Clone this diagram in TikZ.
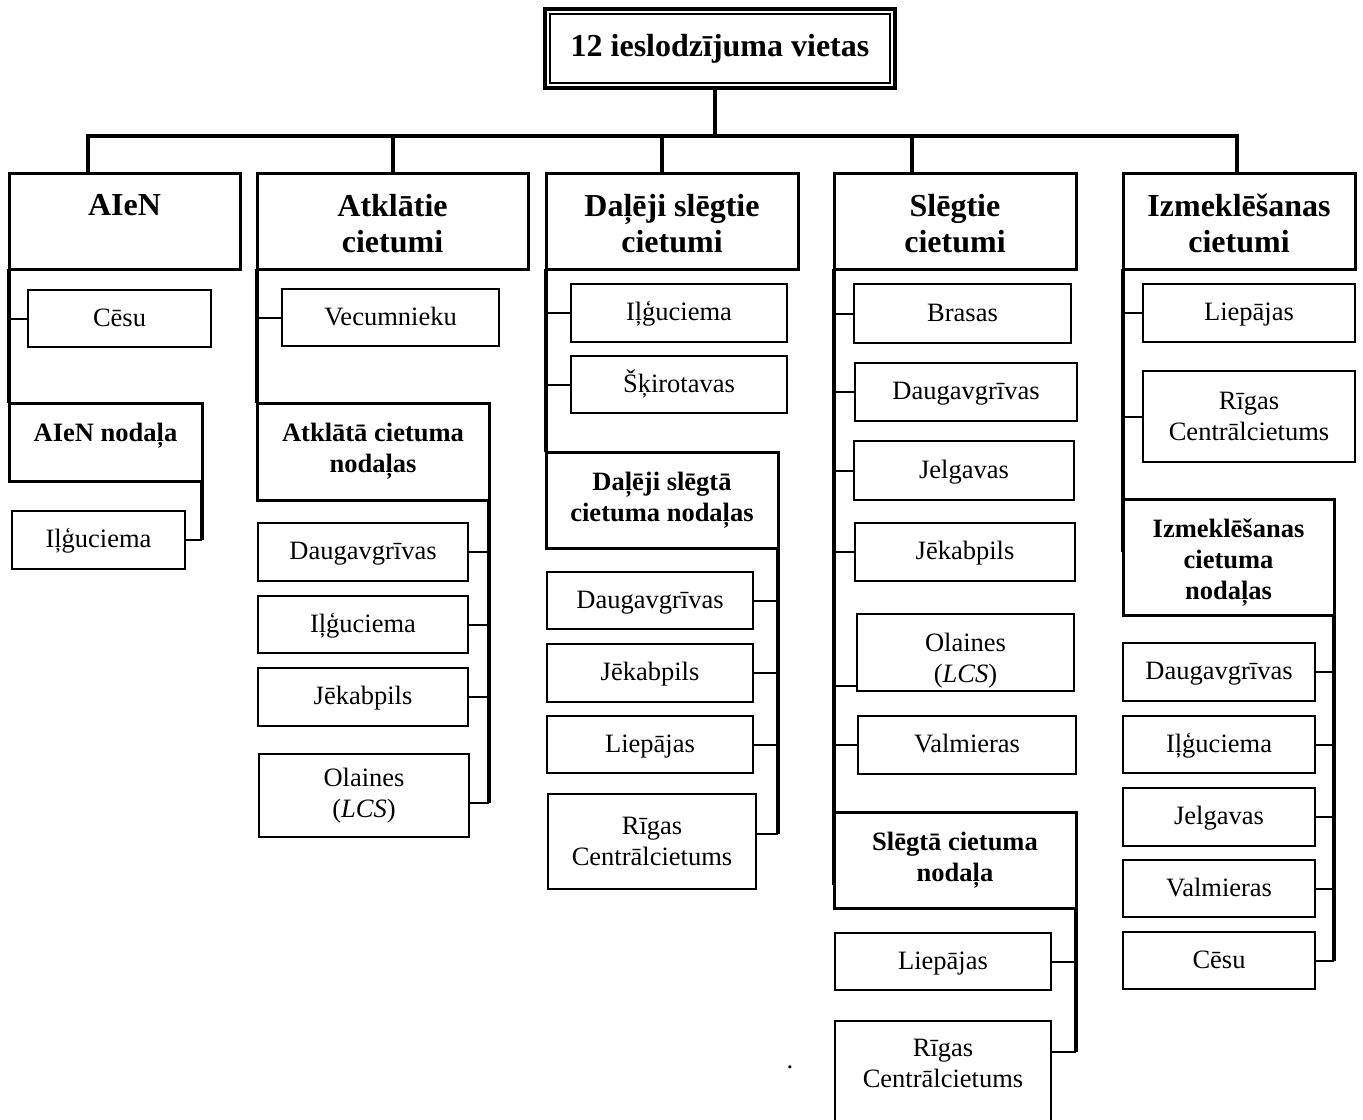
\documentclass[tikz,border=0pt]{standalone}
\usepackage{fontspec}
\setmainfont{Liberation Serif}
\newcommand{\drawbox}[7]{\node[#2, minimum width={(#5-#3)*0.5pt}, minimum height={(#6-#4)*0.5pt}] (#1) at ({(#3+#5)/2},{(#4+#6)/2}) {#7};}
\tikzset{
  every node/.style={inner sep=0pt, outer sep=0pt, align=center},
  basebox/.style={draw, line width=1pt, font=\fontsize{13.25}{15.5}\selectfont},
  child/.style={basebox, text height=10.6pt, text depth=2.65pt},
  childml/.style={basebox},
  header/.style={draw, line width=1.5pt, font=\fontsize{16}{18}\selectfont\bfseries},
  hdtwo/.style={header, text height=31pt, text depth=0pt},
  subhead/.style={draw, line width=1.5pt, font=\fontsize{13.25}{15.5}\selectfont\bfseries},
  titlebox/.style={draw, line width=2pt, font=\fontsize{16}{18}\selectfont\bfseries},
  trunk/.style={line width=2pt},
  conn/.style={line width=1pt},
}
\begin{document}
\begin{tikzpicture}[x=0.5pt, y=-0.5pt]
\useasboundingbox (0,0) rectangle (1363,1119);

% title
\drawbox{title}{titlebox}{545}{9}{895}{88}{12 ieslodzījuma vietas}
\draw[line width=1pt] ([shift={(2.5pt,-2.5pt)}]title.north west) rectangle ([shift={(-2.5pt,2.5pt)}]title.south east);

% headers
\drawbox{h1}{header, text height=13pt, text depth=18.4pt}{9}{173}{240}{269}{AIeN}
\drawbox{h2}{hdtwo}{257}{173}{528}{269}{Atklātie\\cietumi}
\drawbox{h3}{hdtwo}{546}{173}{798}{269}{Daļēji slēgtie\\cietumi}
\drawbox{h4}{hdtwo}{834}{173}{1076}{269}{Slēgtie\\cietumi}
\drawbox{h5}{hdtwo}{1123}{173}{1355}{269}{Izmeklēšanas\\cietumi}

% bar
\coordinate (b1) at (88,136);
\coordinate (b2) at (393,136);
\coordinate (b3) at (662,136);
\coordinate (b4) at (912,136);
\coordinate (b5) at (1237,136);
\coordinate (bt) at (715,136);
\draw[trunk] (h1.north -| b1) -- (b1) -- (b5) -- (h5.north -| b5);
\draw[trunk] (title.south -| bt) -- (bt);
\draw[trunk] (b2) -- (h2.north -| b2);
\draw[trunk] (b3) -- (h3.north -| b3);
\draw[trunk] (b4) -- (h4.north -| b4);

% column 1
\drawbox{c1a}{child}{28}{290}{211}{347}{Cēsu}
\drawbox{s1}{subhead, text height=10pt, text depth=11pt}{9}{403}{202}{481}{AIeN nodaļa}
\drawbox{c1b}{child}{12}{511}{185}{569}{Iļģuciema}
\draw[trunk] (h1.south west) -- (s1.north west);
\draw[conn] (h1.south west |- c1a.west) -- (c1a.west);
\draw[trunk] (s1.south east) -- (s1.south east |- c1b.east);
\draw[conn] (c1b.east) -- (s1.south east |- c1b.east);

% column 2
\drawbox{c2a}{child}{282}{289}{499}{346}{Vecumnieku}
\drawbox{s2}{subhead}{257}{403}{489}{500}{Atklātā cietuma\\nodaļas}
\drawbox{c2b}{child}{258}{523}{468}{581}{Daugavgrīvas}
\drawbox{c2c}{child}{258}{596}{468}{653}{Iļģuciema}
\drawbox{c2d}{child}{258}{668}{468}{726}{Jēkabpils}
\drawbox{c2e}{childml}{259}{754}{469}{837}{Olaines\\(\textit{LCS})}
\draw[trunk] (h2.south west) -- (s2.north west);
\draw[conn] (h2.south west |- c2a.west) -- (c2a.west);
\coordinate (k2e) at ([yshift=-3.75pt]c2e.east);
\draw[trunk] (s2.south east) -- (s2.south east |- k2e);
\foreach \c in {c2b,c2c,c2d} \draw[conn] (\c.east) -- (s2.south east |- \c.east);
\draw[conn] (k2e) -- (s2.south east |- k2e);

% column 3
\drawbox{c3a}{child}{571}{284}{787}{342}{Iļģuciema}
\drawbox{c3b}{child}{571}{356}{787}{413}{Šķirotavas}
\drawbox{s3}{subhead}{546}{452}{778}{548}{Daļēji slēgtā\\cietuma nodaļas}
\drawbox{c3c}{child}{547}{572}{753}{629}{Daugavgrīvas}
\drawbox{c3d}{child}{547}{644}{753}{702}{Jēkabpils}
\drawbox{c3e}{child}{547}{716}{753}{773}{Liepājas}
\drawbox{c3f}{childml}{548}{794}{756}{889}{Rīgas\\Centrālcietums}
\draw[trunk] (h3.south west) -- (s3.north west);
\foreach \c in {c3a,c3b} \draw[conn] (h3.south west |- \c.west) -- (\c.west);
\coordinate (k3f) at ([yshift=4pt]c3f.east);
\draw[trunk] (s3.south east) -- (s3.south east |- k3f);
\foreach \c in {c3c,c3d,c3e} \draw[conn] (\c.east) -- (s3.south east |- \c.east);
\draw[conn] (k3f) -- (s3.south east |- k3f);

% column 4
\drawbox{c4a}{child}{854}{284}{1071}{343}{Brasas}
\drawbox{c4b}{child}{855}{363}{1077}{421}{Daugavgrīvas}
\drawbox{c4c}{child}{854}{441}{1074}{500}{Jelgavas}
\drawbox{c4d}{child}{855}{523}{1075}{581}{Jēkabpils}
\drawbox{c4e}{childml, text height=32.5pt, text depth=2.9pt}{857}{614}{1074}{691}{Olaines\\(\textit{LCS})}
\drawbox{c4f}{child}{858}{716}{1076}{774}{Valmieras}
\drawbox{s4}{subhead}{834}{812}{1076}{908}{Slēgtā cietuma\\nodaļa}
\drawbox{c4g}{child}{835}{933}{1051}{990}{Liepājas}
\drawbox{c4h}{childml, text height=25.5pt, text depth=10pt}{835}{1021}{1051}{1122}{Rīgas\\Centrālcietums}
\draw[trunk] (h4.south west) -- ([yshift=11.5pt]s4.south west);
\foreach \c in {c4a,c4b,c4c,c4d,c4f} \draw[conn] (h4.south west |- \c.west) -- (\c.west);
\coordinate (k4e) at ([yshift=-16.5pt]c4e.west);
\draw[conn] (h4.south west |- k4e) -- (k4e);
\coordinate (k4h) at ([yshift=9.75pt]c4h.east);
\draw[trunk] (s4.south east) -- (s4.south east |- k4h);
\draw[conn] (c4g.east) -- (s4.south east |- c4g.east);
\draw[conn] (k4h) -- (s4.south east |- k4h);

% column 5
\drawbox{c5a}{child}{1143}{284}{1355}{342}{Liepājas}
\drawbox{c5b}{childml}{1143}{371}{1355}{462}{Rīgas\\Centrālcietums}
\drawbox{s5}{subhead, text height=45.3pt, text depth=2.9pt}{1123}{499}{1334}{615}{Izmeklēšanas\\cietuma\\nodaļas}
\drawbox{c5c}{child}{1123}{643}{1315}{701}{Daugavgrīvas}
\drawbox{c5d}{child}{1123}{716}{1315}{773}{Iļģuciema}
\drawbox{c5e}{child}{1123}{788}{1315}{846}{Jelgavas}
\drawbox{c5f}{child}{1123}{860}{1315}{917}{Valmieras}
\drawbox{c5g}{child}{1123}{932}{1315}{989}{Cēsu}
\draw[trunk] (h5.south west) -- ([yshift=31.5pt]s5.south west);
\foreach \c in {c5a,c5b} \draw[conn] (h5.south west |- \c.west) -- (\c.west);
\draw[trunk] (s5.south east) -- (s5.south east |- c5g.east);
\foreach \c in {c5c,c5d,c5e,c5f,c5g} \draw[conn] (\c.east) -- (s5.south east |- \c.east);

% stray dot
\node[font=\fontsize{13.25}{15.5}\selectfont] (dot) at (790,1067) {.};
\end{tikzpicture}
\end{document}
